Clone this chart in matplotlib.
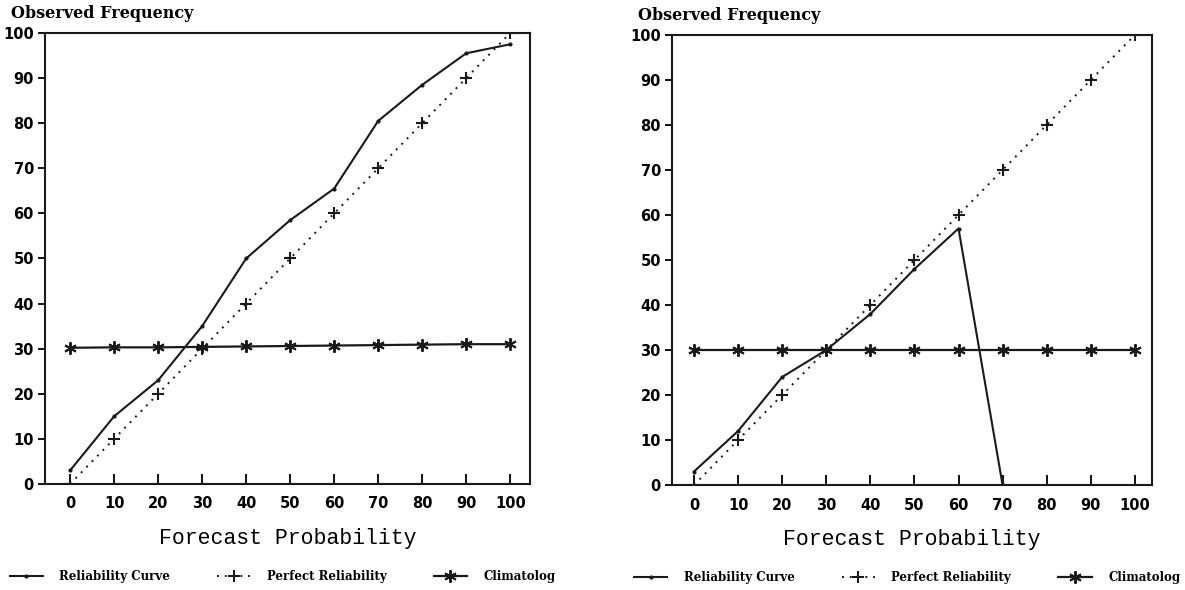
import numpy as np
import matplotlib
matplotlib.use("Agg")
import matplotlib.pyplot as plt

forecast = [0, 10, 20, 30, 40, 50, 60, 70, 80, 90, 100]
perfect = [0, 10, 20, 30, 40, 50, 60, 70, 80, 90, 100]

rel_left = [3, 15, 23, 35, 50, 58.5, 65.5, 80.5, 88.5, 95.5, 97.5]
clim_left = [30.2, 30.3, 30.3, 30.4, 30.5, 30.6, 30.7, 30.8, 30.9, 31.0, 31.0]

rel_right = [3, 12, 24, 30, 38, 48, 57, 0, np.nan, np.nan, np.nan]
clim_right = [30, 30, 30, 30, 30, 30, 30, 30, 30, 30, 30]

yticks = [0, 10, 20, 30, 40, 50, 60, 70, 80, 90, 100]
xticks = forecast
series_names = ["Reliability Curve", "Perfect Reliability", "Climatolog"]

fig = plt.figure(figsize=(11.85, 5.9), dpi=100)
axL = fig.add_axes([45/1185, 1-484/590, (530-45)/1185, (484-33)/590])
axR = fig.add_axes([672/1185, 1-485/590, (1152-672)/1185, (485-35)/590])

ast = (6, 2, 0)
tickfont = dict(family="DejaVu Sans", weight="bold", size=10.5)

for ax, rel, clim, xl in [(axL, rel_left, clim_left, (-5.7, 104.5)),
                          (axR, rel_right, clim_right, (-5.0, 103.9))]:
    ax.plot(forecast, rel, color="#1a1a1a", lw=1.5, marker="o", ms=2,
            label=series_names[0])
    ax.plot(forecast, perfect, color="#1a1a1a", lw=1.4, ls=(0, (1, 3)),
            marker="+", ms=9, mew=1.5, label=series_names[1])
    ax.plot(forecast, clim, color="#1a1a1a", lw=1.6, marker=ast, ms=9,
            mew=1.4, label=series_names[2])
    ax.set_xlim(*xl)
    ax.set_ylim(0, 100)
    ax.set_xticks(xticks)
    ax.set_yticks(yticks)
    ax.set_xticklabels([str(v) for v in xticks], fontdict=tickfont)
    ax.set_yticklabels([str(v) for v in yticks], fontdict=tickfont)
    ax.tick_params(axis="x", direction="in", length=7, width=1.3, pad=9)
    ax.tick_params(axis="y", direction="out", length=5, width=1.3, pad=3)
    for s in ax.spines.values():
        s.set_linewidth(1.5)
        s.set_color("#1a1a1a")
    ax.set_xlabel("Forecast Probability", family="Liberation Mono",
                  size=15.5, labelpad=12)
    ax.text(-0.07, 1.025, "Observed Frequency", transform=ax.transAxes,
            family="DejaVu Serif", weight="bold", size=11.5,
            ha="left", va="bottom")
    ax.legend(loc="center", bbox_to_anchor=(0.49, -0.205), ncol=3,
              frameon=False, prop=dict(family="DejaVu Serif", weight="bold", size=8.5),
              handlelength=2.8, columnspacing=4.0, handletextpad=1.4)

fig.savefig("out.png", dpi=100)
